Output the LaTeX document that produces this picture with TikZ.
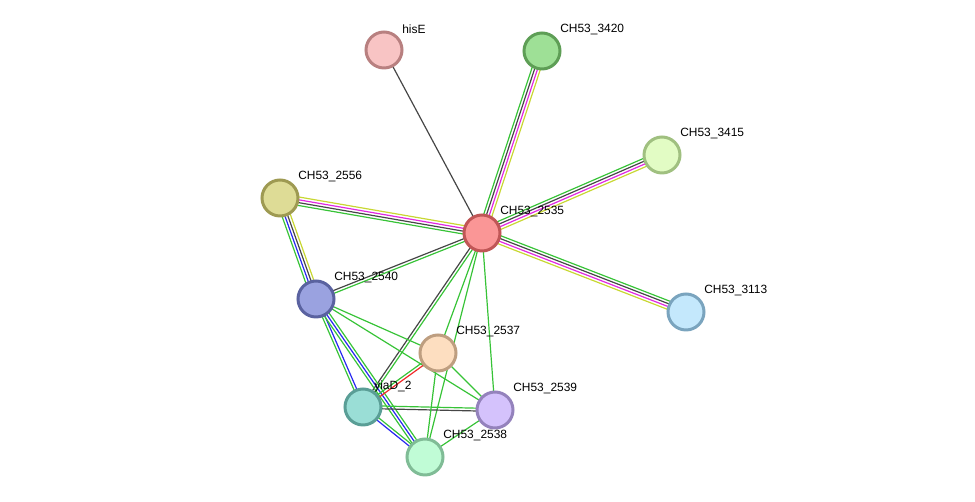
\documentclass[tikz,border=0pt]{standalone}
\usepackage{fontspec}
\setmainfont{Liberation Sans}
\usetikzlibrary{calc, backgrounds}
\definecolor{evgreen}{RGB}{55,195,55}
\definecolor{evblack}{RGB}{70,70,70}
\definecolor{evmag}{RGB}{225,40,225}
\definecolor{evyel}{RGB}{200,215,50}
\definecolor{evblue}{RGB}{40,40,240}
\definecolor{evred}{RGB}{240,40,40}
% node fills and rims
\definecolor{hisefill}{RGB}{248,196,196}\definecolor{hisedraw}{RGB}{184,128,128}
\definecolor{f3420}{RGB}{158,224,150}\definecolor{d3420}{RGB}{94,158,86}
\definecolor{f3415}{RGB}{226,252,196}\definecolor{d3415}{RGB}{160,192,128}
\definecolor{f2556}{RGB}{222,220,150}\definecolor{d2556}{RGB}{158,154,82}
\definecolor{f2535}{RGB}{250,150,150}\definecolor{d2535}{RGB}{192,86,86}
\definecolor{f3113}{RGB}{196,232,252}\definecolor{d3113}{RGB}{122,164,190}
\definecolor{f2540}{RGB}{154,162,224}\definecolor{d2540}{RGB}{90,98,160}
\definecolor{f2537}{RGB}{253,222,192}\definecolor{d2537}{RGB}{190,158,128}
\definecolor{yiadfill}{RGB}{154,222,214}\definecolor{yiaddraw}{RGB}{90,158,150}
\definecolor{f2539}{RGB}{212,194,252}\definecolor{d2539}{RGB}{148,130,188}
\definecolor{f2538}{RGB}{192,252,214}\definecolor{d2538}{RGB}{128,188,150}
% one coloured line per evidence channel
\newcommand{\stredge}[4]{%
  \foreach \col [count=\i] in {#4} {
    \pgfmathsetmacro{\off}{(\i-(#3+1)/2)*1.6}
    \draw[evl, \col] ($(#1.center)!\off pt!90:(#2.center)$) -- ($(#2.center)!\off pt!-90:(#1.center)$);
  }
}

\begin{document}
\begin{tikzpicture}[x=0.02cm, y=-0.02cm,
    prot/.style 2 args={circle, minimum size=0.72cm, inner sep=0pt, line width=0.06cm, fill=#1, draw=#2},
    lab/.style={anchor=west, inner sep=0pt, font=\fontsize{6.8pt}{8pt}\selectfont},
    evl/.style={line width=0.68pt}
]
\useasboundingbox (0,0) rectangle (975,502);

\node[prot={hisefill}{hisedraw}] (hise) at (384,50) {};
\node[prot={f3420}{d3420}] (p3420) at (542,51) {};
\node[prot={f3415}{d3415}] (p3415) at (662,155) {};
\node[prot={f2556}{d2556}] (p2556) at (280,198) {};
\node[prot={f2535}{d2535}] (p2535) at (482,233) {};
\node[prot={f3113}{d3113}] (p3113) at (686,312) {};
\node[prot={f2540}{d2540}] (p2540) at (316,299) {};
\node[prot={f2537}{d2537}] (p2537) at (438,353) {};
\node[prot={yiadfill}{yiaddraw}] (yiad) at (363,407) {};
\node[prot={f2539}{d2539}] (p2539) at (495,410) {};
\node[prot={f2538}{d2538}] (p2538) at (425,457) {};

\node[lab] (hise-l) at ($(hise)+(18,-21)$) {hisE};
\node[lab] (p3420-l) at ($(p3420)+(18,-21)$) {CH53\_3420};
\node[lab] (p3415-l) at ($(p3415)+(18,-21)$) {CH53\_3415};
\node[lab] (p2556-l) at ($(p2556)+(18,-21)$) {CH53\_2556};
\node[lab] (p2535-l) at ($(p2535)+(18,-21)$) {CH53\_2535};
\node[lab] (p3113-l) at ($(p3113)+(18,-21)$) {CH53\_3113};
\node[lab] (p2540-l) at ($(p2540)+(18,-21)$) {CH53\_2540};
\node[lab] (p2537-l) at ($(p2537)+(18,-21)$) {CH53\_2537};
\node[lab] (yiad-l) at ($(yiad)+(11,-21)$) {yiaD\_2};
\node[lab] (p2539-l) at ($(p2539)+(18,-21)$) {CH53\_2539};
\node[lab] (p2538-l) at ($(p2538)+(18,-21)$) {CH53\_2538};

\begin{scope}[on background layer]
\stredge{p2535}{hise}{1}{evblack}
\stredge{p2535}{p3420}{4}{evyel,evmag,evblack,evgreen}
\stredge{p2535}{p3415}{4}{evyel,evmag,evblack,evgreen}
\stredge{p2535}{p3113}{4}{evyel,evmag,evblack,evgreen}
\stredge{p2556}{p2535}{4}{evgreen,evblack,evmag,evyel}
\stredge{p2556}{p2540}{4}{evgreen,evblue,evblack,evyel}
\stredge{p2540}{p2535}{2}{evgreen,evblack}
\stredge{p2535}{yiad}{2}{evblack,evgreen}
\stredge{p2535}{p2537}{1}{evgreen}
\stredge{p2535}{p2538}{1}{evgreen}
\stredge{p2535}{p2539}{1}{evgreen}
\stredge{p2540}{yiad}{2}{evgreen,evblue}
\stredge{p2540}{p2538}{3}{evgreen,evblue,evgreen}
\stredge{p2540}{p2537}{1}{evgreen}
\stredge{p2540}{p2539}{1}{evgreen}
\stredge{yiad}{p2537}{2}{evred,evgreen}
\stredge{yiad}{p2539}{2}{evblack,evgreen}
\stredge{yiad}{p2538}{2}{evblue,evgreen}
\stredge{p2537}{p2539}{1}{evgreen}
\stredge{p2537}{p2538}{1}{evgreen}
\stredge{p2539}{p2538}{1}{evgreen}
\end{scope}
\end{tikzpicture}
\end{document}
